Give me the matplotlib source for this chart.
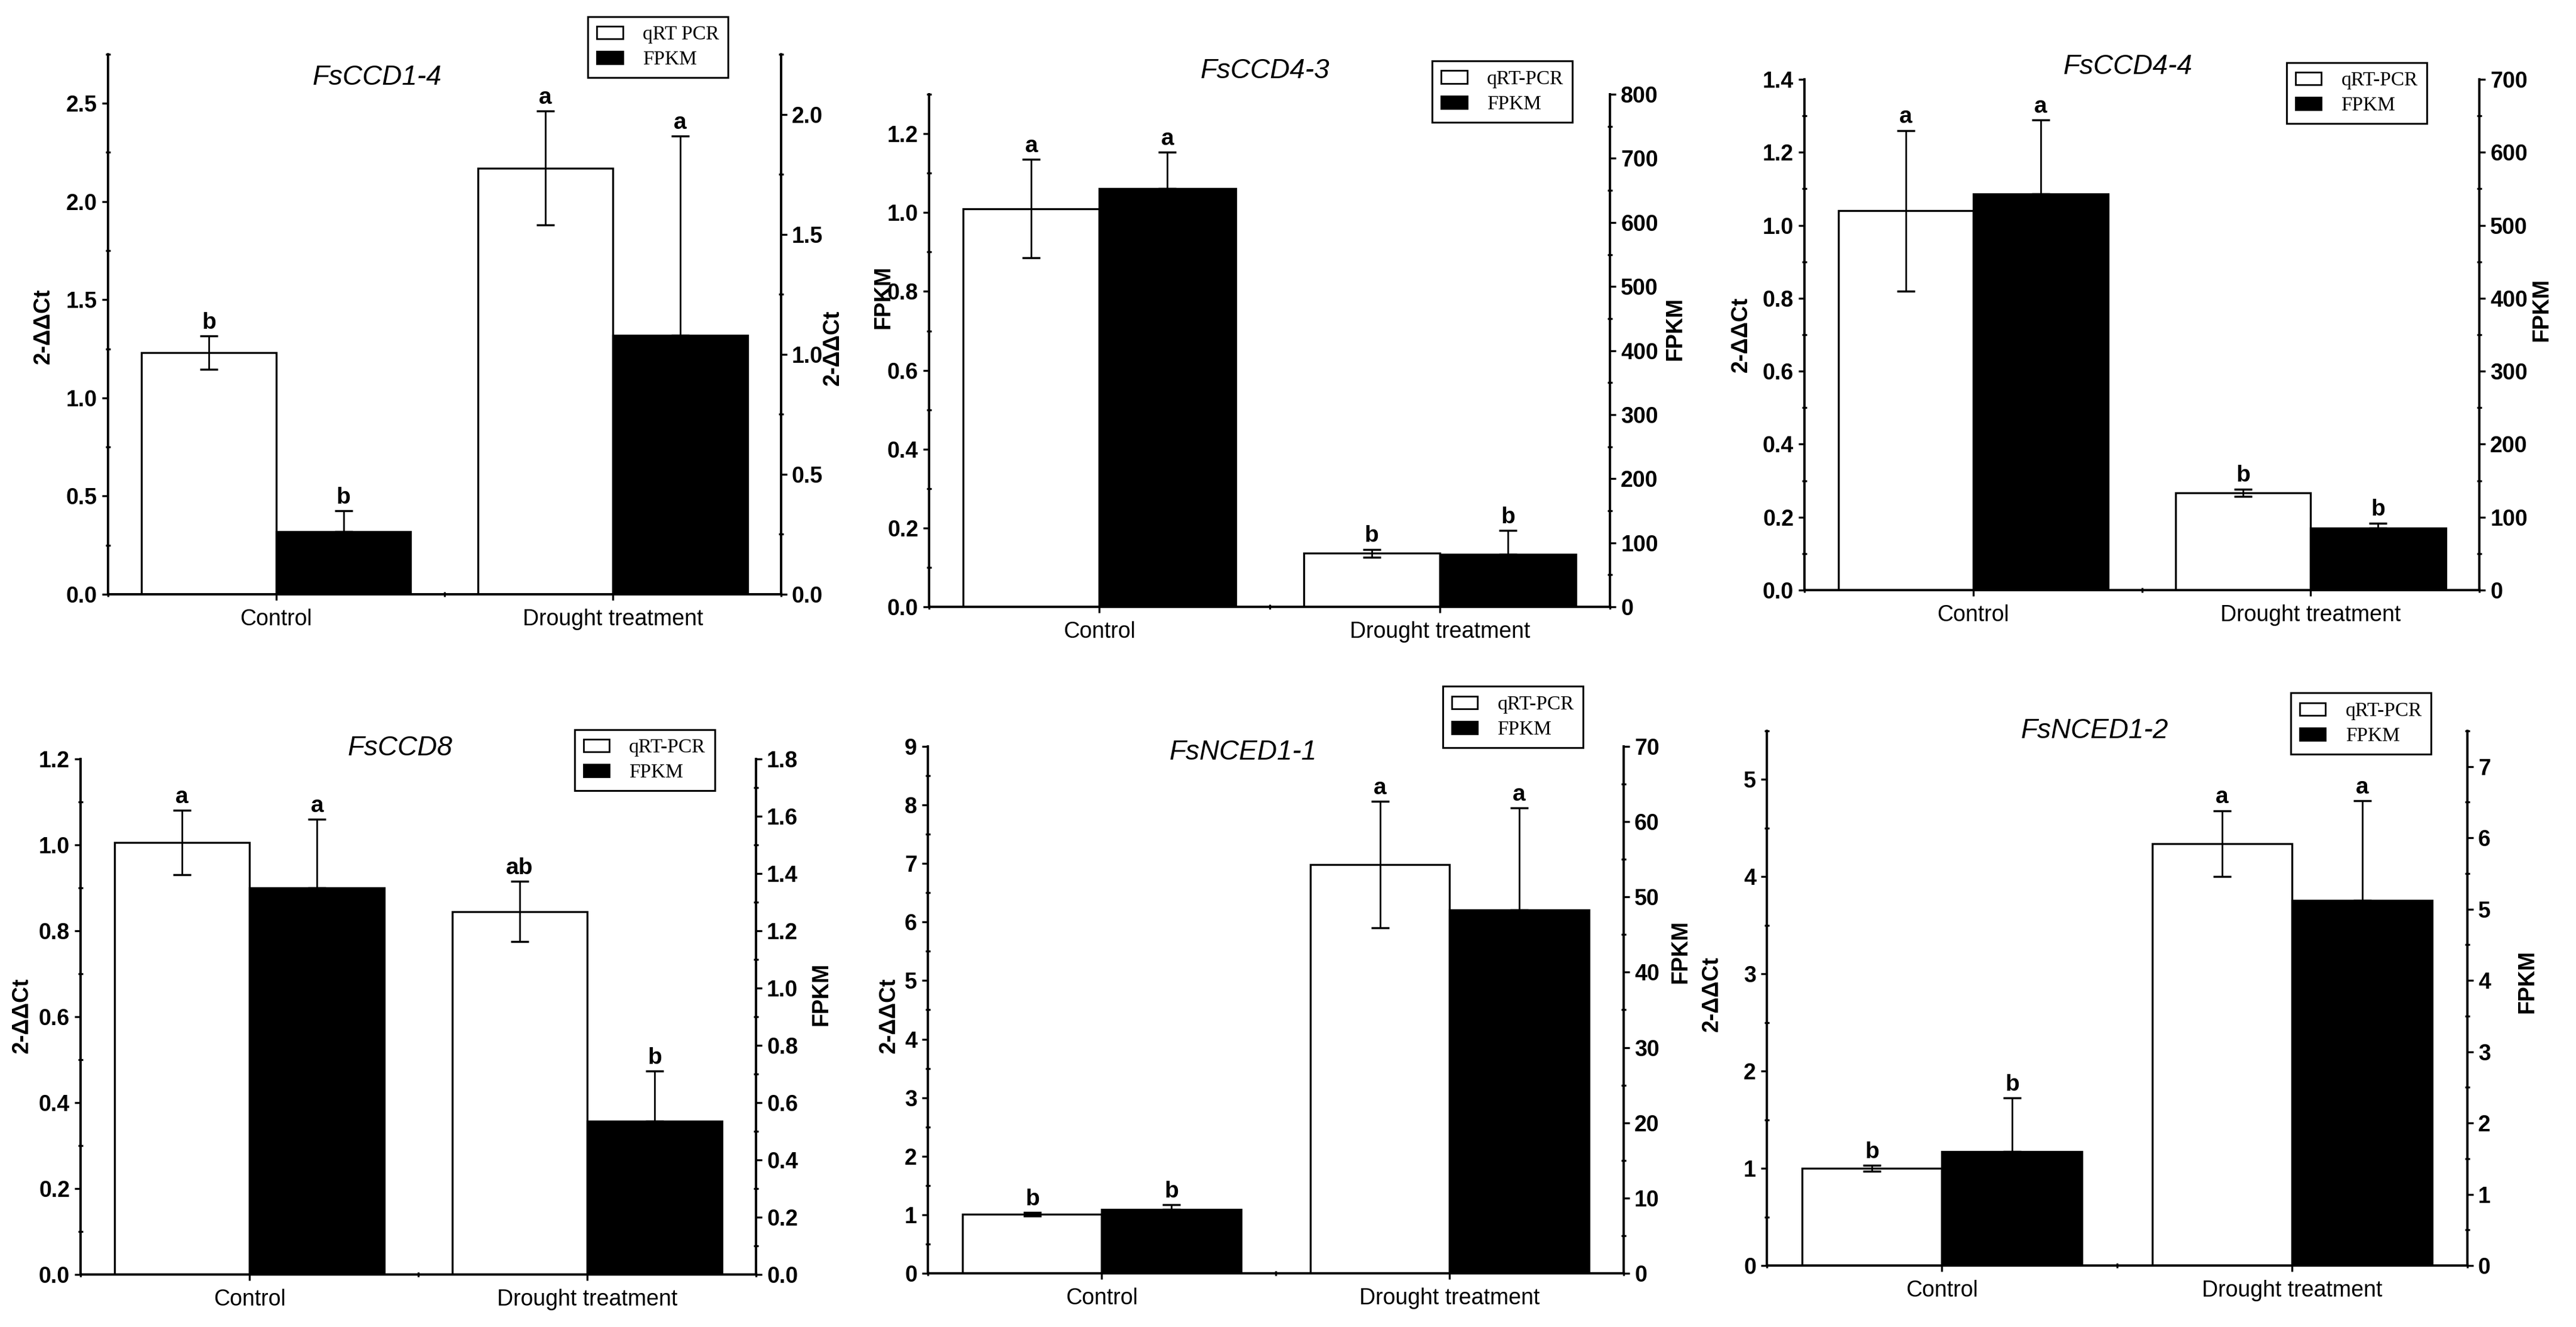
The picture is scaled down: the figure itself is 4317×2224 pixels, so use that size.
import matplotlib
matplotlib.use('Agg')
import matplotlib.pyplot as plt
from matplotlib.ticker import MultipleLocator, FormatStrFormatter
from matplotlib.patches import Patch

SANS = ['Liberation Sans Narrow', 'Liberation Sans', 'DejaVu Sans']
SERIF = ['Liberation Serif', 'DejaVu Serif']
plt.rcParams['font.family'] = SANS

categories = ['Control', 'Drought treatment']

genes = ['FsCCD1-4', 'FsCCD4-3', 'FsCCD4-4', 'FsCCD8', 'FsNCED1-1', 'FsNCED1-2']

# qRT-PCR (white bars, left axis)
qpcr_mean = [[1.23, 2.17], [1.01, 0.136], [1.04, 0.267],
             [1.005, 0.845], [1.01, 6.98], [1.0, 4.34]]
qpcr_err = [[0.085, 0.29], [0.125, 0.01], [0.22, 0.01],
            [0.075, 0.07], [0.03, 1.08], [0.03, 0.34]]
qpcr_sig = [['b', 'a'], ['a', 'b'], ['a', 'b'],
            ['a', 'ab'], ['b', 'a'], ['b', 'a']]

# FPKM (black bars, right axis)
fpkm_mean = [[0.26, 1.08], [653, 82], [543, 85],
             [1.35, 0.535], [8.5, 48.3], [1.6, 5.12]]
fpkm_err = [[0.087, 0.83], [57, 37], [101, 7],
            [0.24, 0.175], [0.6, 13.5], [0.75, 1.4]]
fpkm_sig = [['b', 'a'], ['a', 'b'], ['a', 'b'],
            ['a', 'b'], ['b', 'a'], ['b', 'a']]

legend_names = [['qRT PCR', 'FPKM']] + [['qRT-PCR', 'FPKM']] * 5
left_labels = ['2-ΔΔCt', 'FPKM', '2-ΔΔCt', '2-ΔΔCt', '2-ΔΔCt', '2-ΔΔCt']
right_labels = ['2-ΔΔCt', 'FPKM', 'FPKM', 'FPKM', 'FPKM', 'FPKM']

# axis scales: (top, major, minor, format)
left_scale = [(2.75, 0.5, 0.25, '%.1f'), (1.3, 0.2, 0.1, '%.1f'), (1.4, 0.2, 0.1, '%.1f'),
              (1.2, 0.2, 0.1, '%.1f'), (9, 1, 0.5, '%d'), (5.5, 1, 0.5, '%d')]
right_scale = [(2.25, 0.5, 0.25, '%.1f'), (800, 100, 50, '%d'), (700, 100, 50, '%d'),
               (1.8, 0.2, 0.1, '%.1f'), (70, 10, 5, '%d'), (7.5, 1, 0.5, '%d')]

# layout in figure fractions [x0, y0, w, h]
boxes = [[0.0419, 0.5522, 0.2613, 0.4069],
         [0.3607, 0.5427, 0.2643, 0.3862],
         [0.7005, 0.5553, 0.2620, 0.3849],
         [0.0313, 0.0396, 0.2622, 0.3885],
         [0.3602, 0.0405, 0.2701, 0.3970],
         [0.6859, 0.0463, 0.2719, 0.4029]]
title_pos = [(0.40, 0.957), (0.493, 1.045), (0.479, 1.025),
             (0.473, 1.021), (0.453, 0.989), (0.468, 1.0)]
legend_pos = [(0.713, 1.070), (0.739, 1.065), (0.714, 1.033),
              (0.731, 1.057), (0.740, 1.114), (0.748, 1.071)]
left_lab_pos = [(-0.096, 0.496), (-0.067, 0.604), (-0.094, 0.50),
                (-0.087, 0.502), (-0.056, 0.489), (-0.079, 0.508)]
right_lab_pos = [(1.077, 0.457), (1.096, 0.543), (1.092, 0.549),
                 (1.097, 0.544), (1.082, 0.61), (1.086, 0.531)]

W = 0.4
LW = 2.4
TICK = 27

fig = plt.figure(figsize=(43.17, 22.24), dpi=100)

for i, gene in enumerate(genes):
    ax = fig.add_axes(boxes[i])
    ax2 = ax.twinx()
    x = [0, 1]
    xw = [c - W / 2 for c in x]
    xb = [c + W / 2 for c in x]

    ax.bar(xw, qpcr_mean[i], W, color='white', edgecolor='black', linewidth=LW, zorder=2)
    ax.errorbar(xw, qpcr_mean[i], yerr=qpcr_err[i], fmt='none', ecolor='black',
                elinewidth=2, capsize=11, capthick=2.5, zorder=3)
    ax2.bar(xb, fpkm_mean[i], W, color='black', edgecolor='black', linewidth=LW, zorder=2)
    ax2.errorbar(xb, fpkm_mean[i], yerr=[[0, 0], fpkm_err[i]], fmt='none', ecolor='black',
                 elinewidth=2, capsize=11, capthick=2.5, zorder=3)

    for j in range(2):
        ax.annotate(qpcr_sig[i][j], (xw[j], qpcr_mean[i][j] + qpcr_err[i][j]),
                    xytext=(0, 3), textcoords='offset points', ha='center', va='bottom',
                    fontsize=28, fontweight='bold')
        ax2.annotate(fpkm_sig[i][j], (xb[j], fpkm_mean[i][j] + fpkm_err[i][j]),
                     xytext=(0, 3), textcoords='offset points', ha='center', va='bottom',
                     fontsize=28, fontweight='bold')

    ax.set_xlim(-0.5, 1.5)
    top, major, minor, fmt = left_scale[i]
    ax.set_ylim(0, top)
    ax.yaxis.set_major_locator(MultipleLocator(major))
    ax.yaxis.set_minor_locator(MultipleLocator(minor))
    ax.yaxis.set_major_formatter(FormatStrFormatter(fmt))
    top, major, minor, fmt = right_scale[i]
    ax2.set_ylim(0, top)
    ax2.yaxis.set_major_locator(MultipleLocator(major))
    ax2.yaxis.set_minor_locator(MultipleLocator(minor))
    ax2.yaxis.set_major_formatter(FormatStrFormatter(fmt))

    ax.set_xticks(x)
    ax.set_xticklabels(categories, fontsize=39)
    ax.xaxis.set_minor_locator(MultipleLocator(0.5))

    for a in (ax, ax2):
        a.spines['top'].set_visible(False)
        for s in ('left', 'right', 'bottom'):
            a.spines[s].set_linewidth(2.6)
        a.tick_params(axis='both', which='major', direction='out', length=7, width=2.4,
                      labelsize=TICK, pad=6)
        a.tick_params(axis='both', which='minor', direction='inout', length=6, width=2.4)
        for lab in a.get_yticklabels():
            lab.set_fontweight('bold')
    ax.tick_params(axis='x', which='major', pad=10)

    ax.set_ylabel(left_labels[i], fontsize=27, fontweight='bold', va='center')
    ax.yaxis.set_label_coords(*left_lab_pos[i])
    ax2.set_ylabel(right_labels[i], fontsize=27, fontweight='bold', va='center')
    ax2.yaxis.set_label_coords(*right_lab_pos[i])

    ax.text(title_pos[i][0], title_pos[i][1], gene, transform=ax.transAxes,
            ha='center', va='center', fontsize=33, style='italic',
            family=['Liberation Sans', 'DejaVu Sans'])

    handles = [Patch(facecolor='white', edgecolor='black', linewidth=2),
               Patch(facecolor='black', edgecolor='black', linewidth=2)]
    leg = ax2.legend(handles, legend_names[i], loc='upper left',
                     bbox_to_anchor=legend_pos[i], prop={'family': SERIF, 'size': 24},
                     fancybox=False, edgecolor='black', framealpha=1,
                     handlelength=1.3, handleheight=0.6, handletextpad=1.0,
                     borderpad=0.45, labelspacing=0.35, borderaxespad=0)
    leg.get_frame().set_linewidth(2.2)

fig.savefig('out.png', dpi=100)
